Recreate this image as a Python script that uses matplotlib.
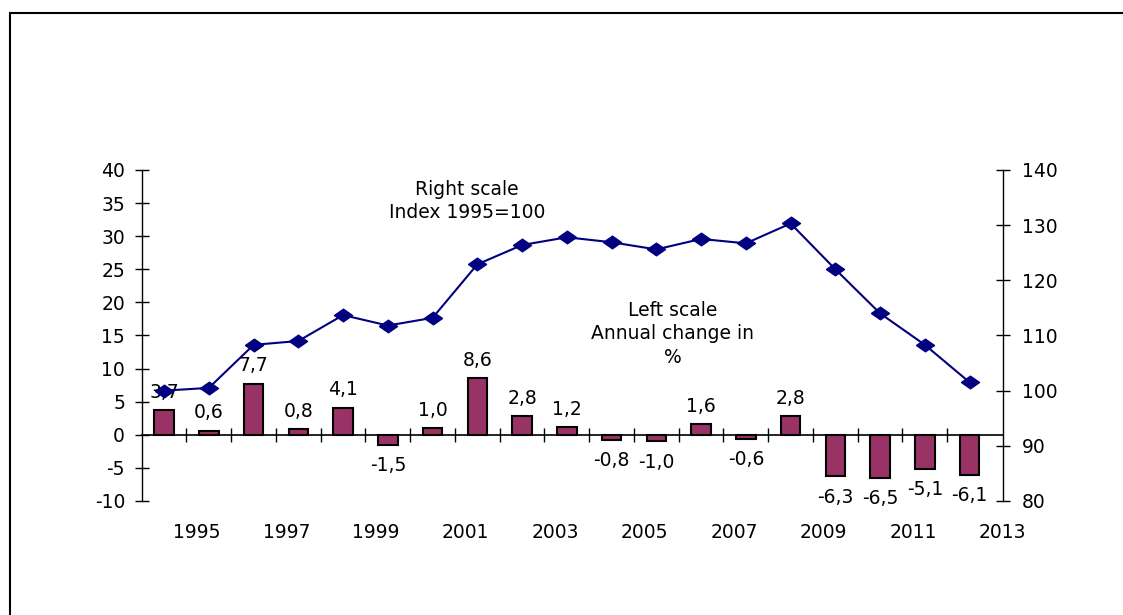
import numpy as np
import matplotlib.pyplot as plt
from matplotlib.patches import Rectangle

years = list(range(1995, 2014))
annual_change = [3.7, 0.6, 7.7, 0.8, 4.1, -1.5, 1.0, 8.6, 2.8, 1.2,
                 -0.8, -1.0, 1.6, -0.6, 2.8, -6.3, -6.5, -5.1, -6.1]
index_1995 = [100.0, 100.5, 108.3, 109.0, 113.7, 111.8, 113.2, 122.9, 126.4, 127.8,
              126.9, 125.6, 127.5, 126.7, 130.3, 122.0, 114.0, 108.3, 101.5]
year_labels = [str(y) for y in years[::2]]

plt.rcParams['font.family'] = ['DejaVu Sans']
plt.rcParams['axes.unicode_minus'] = False
fs = 13.5

fig = plt.figure(figsize=(11.23, 6.15), dpi=100)
ax = fig.add_axes([0.1262, 0.1854, 0.7667, 0.5382])
x = np.arange(len(years))

# bars on left scale
ax.bar(x, annual_change, width=0.44, color='#993366', edgecolor='black', linewidth=1.5, zorder=2)
for xi, v in zip(x, annual_change):
    txt = f"{v:.1f}".replace('.', ',')
    if v >= 0:
        ax.annotate(txt, (xi, v), xytext=(0, 6), textcoords='offset points',
                    ha='center', va='bottom', fontsize=fs)
    else:
        ax.annotate(txt, (xi, v), xytext=(0, -8), textcoords='offset points',
                    ha='center', va='top', fontsize=fs)

ax.set_xlim(-0.5, len(years) - 0.5)
ax.set_ylim(-10, 40)
ax.set_yticks(range(-10, 41, 5))
ax.tick_params(axis='y', direction='inout', length=10, width=1, labelsize=fs, pad=7)
ax.set_xticks(x[::2] + 0.74)
ax.set_xticklabels(year_labels)
ax.tick_params(axis='x', length=0, labelsize=fs, pad=16)
for s in ['top', 'bottom', 'right']:
    ax.spines[s].set_visible(False)
ax.spines['left'].set_linewidth(1)

# zero line with category ticks
zero = ax.secondary_xaxis(0.2)
zero.set_xticks(x[:-1] + 0.5)
zero.tick_params(direction='inout', length=10, width=1, labelbottom=False)
zero.spines['bottom'].set_linewidth(1.2)

# index line on right scale
ax2 = ax.twinx()
diamond = [(-1, 0), (0, 0.7), (1, 0), (0, -0.7), (-1, 0)]
ax2.plot(x, index_1995, color='#000080', linewidth=1.5, marker=diamond,
         markersize=13, markerfacecolor='#000080', markeredgecolor='#000080', zorder=3)
ax2.set_ylim(80, 140)
ax2.set_yticks(range(80, 141, 10))
ax2.tick_params(axis='y', direction='inout', length=10, width=1, labelsize=fs, pad=9)
for s in ['top', 'bottom', 'left']:
    ax2.spines[s].set_visible(False)
ax2.spines['right'].set_linewidth(1)

ax.text(0.378, 0.906, "Right scale\nIndex 1995=100", transform=ax.transAxes,
        ha='center', va='center', fontsize=fs, linespacing=1.3)
ax.text(0.617, 0.505, "Left scale\nAnnual change in\n%", transform=ax.transAxes,
        ha='center', va='center', fontsize=fs, linespacing=1.3)

# outer frame
fig.add_artist(Rectangle((9.5 / 1123, -0.05), 1.1, 1 - 13 / 615 + 0.05,
                         transform=fig.transFigure, fill=False, edgecolor='black', linewidth=1.5))

fig.savefig('out.png', dpi=100)
